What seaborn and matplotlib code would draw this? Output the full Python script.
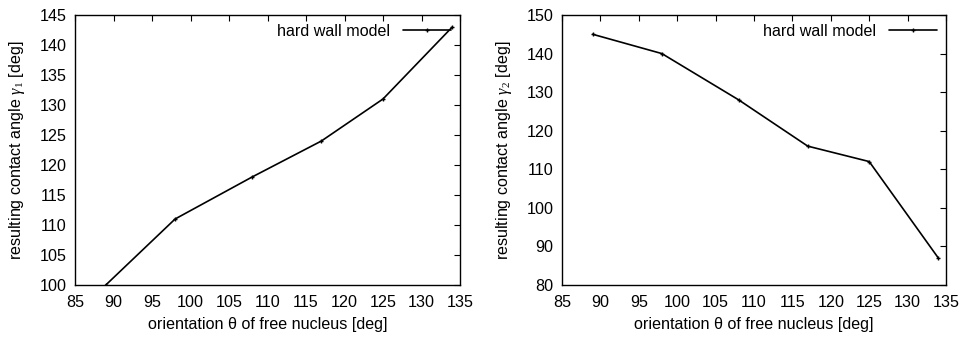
import matplotlib
matplotlib.use("Agg")
import matplotlib.pyplot as plt
import seaborn as sns
import pandas as pd

theta = [89, 98, 108, 117, 125, 134]
gamma1 = [100, 111, 118, 124, 131, 143]
gamma2 = [145, 140, 128, 116, 112, 87]
series_label = "hard wall model"
xticks = [85, 90, 95, 100, 105, 110, 115, 120, 125, 130, 135]
yticks1 = [100, 105, 110, 115, 120, 125, 130, 135, 140, 145]
yticks2 = [80, 90, 100, 110, 120, 130, 140, 150]

sns.set_theme(style="white")
plt.rcParams["font.family"] = ["Liberation Sans", "DejaVu Sans"]
plt.rcParams["mathtext.fontset"] = "custom"
plt.rcParams["mathtext.rm"] = "Liberation Serif"
plt.rcParams["mathtext.it"] = "Liberation Serif:italic"
plt.rcParams["text.color"] = "black"
plt.rcParams["axes.labelcolor"] = "black"

fig = plt.figure(figsize=(9.62, 3.39), dpi=100)
W, H = 962, 339
ax1 = fig.add_axes([75 / W, 1 - 285 / H, (460 - 75) / W, (285 - 15) / H])
ax2 = fig.add_axes([562 / W, 1 - 285 / H, (946 - 562) / W, (285 - 15) / H])

df = pd.DataFrame({"theta": theta, "g1": gamma1, "g2": gamma2})
fs = 11.6

for ax, col, yt, ylab in [
    (ax1, "g1", yticks1, r"resulting contact angle $\gamma_1$ [deg]"),
    (ax2, "g2", yticks2, r"resulting contact angle $\gamma_2$ [deg]"),
]:
    sns.lineplot(data=df, x="theta", y=col, ax=ax, color="black", lw=1.2,
                 marker="+", markersize=3, markeredgewidth=1.0,
                 markeredgecolor="black", markerfacecolor="black",
                 label=series_label)
    ax.set_xlim(85, 135)
    ax.set_ylim(yt[0], yt[-1])
    ax.set_xticks(xticks)
    ax.set_yticks(yt)
    ax.tick_params(direction="in", length=4, width=0.8, top=True, right=True,
                   labelsize=fs, colors="black")
    ax.tick_params(axis="x", pad=7)
    ax.tick_params(axis="y", pad=6)
    for s in ax.spines.values():
        s.set_color("black")
        s.set_linewidth(1.0)
    ax.set_xlabel("orientation \u03b8 of free nucleus [deg]", fontsize=fs, labelpad=5)
    ax.set_ylabel(ylab, fontsize=fs, labelpad=9)
    leg = ax.legend(loc="upper right", frameon=False, fontsize=fs,
                    markerfirst=False, handlelength=3.0, borderaxespad=0.25,
                    borderpad=0.3, handletextpad=0.8)

fig.savefig("out.png", dpi=100)
